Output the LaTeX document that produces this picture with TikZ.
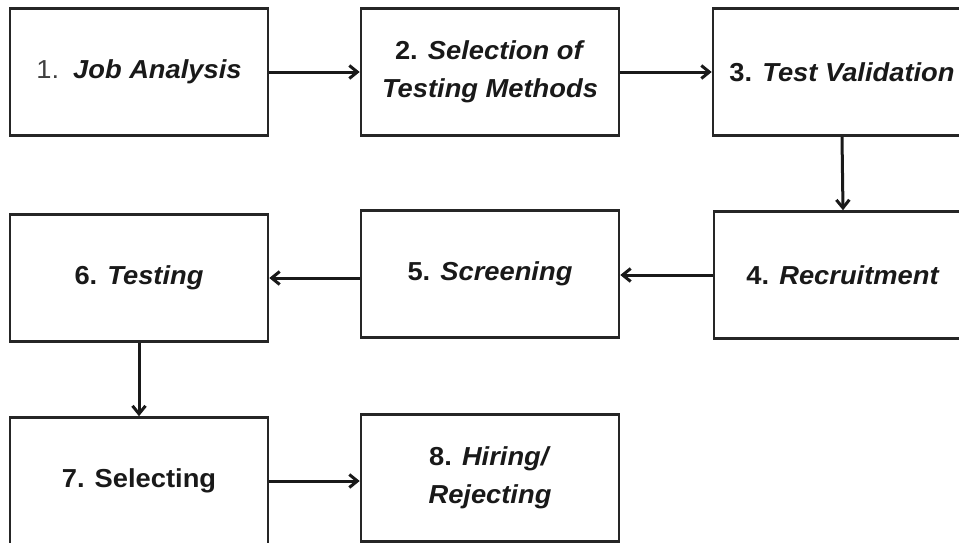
\documentclass[tikz,border=0pt]{standalone}
\usepackage{fontspec}
\setmainfont[FakeStretch=1.05]{Liberation Sans}
\usetikzlibrary{arrows.meta}
\begin{document}
\begin{tikzpicture}[x=1pt,y=-1pt,
  box/.style={draw=black!85,line width=2.6pt,minimum width=258pt,minimum height=127pt,
    inner sep=0pt,align=center,font=\fontsize{26}{38}\selectfont\bfseries,text=black!90},
  arr/.style={line width=3pt,draw=black!90,-{Straight Barb[length=8pt,width=13pt,line width=3pt]}}]
\useasboundingbox (0,0) rectangle (959,542);
\clip (0,0) rectangle (959,542);
\node[box] (b1) at (139,72) {{\mdseries\color{black!75}1.}\hspace{14pt}\textit{Job Analysis}};
\node[box] (b2) at (490,72) {2. \textit{Selection of}\\\textit{Testing Methods}};
\node[box] (b3) at (842,72) {3. \textit{Test Validation}};
\node[box] (b4) at (843,275) {4. \textit{Recruitment}};
\node[box] (b5) at (490,274) {5. \textit{Screening}};
\node[box] (b6) at (139,278) {6. \textit{Testing}};
\node[box] (b7) at (139,481) {7. Selecting};
\node[box] (b8) at (490,478) {8. \textit{Hiring/}\\\textit{Rejecting}};
\draw[arr] (b1.east) -- (b2.west);
\draw[arr] (b2.east) -- (b3.west);
\draw[arr] (b3.south) -- (b4.north);
\draw[arr] (b4.west) -- (b4.west -| b5.east);
\draw[arr] (b5.west |- b6.east) -- (b6.east);
\draw[arr] (b6.south) -- (b7.north);
\draw[arr] (b7.east) -- (b7.east -| b8.west);
\end{tikzpicture}
\end{document}
